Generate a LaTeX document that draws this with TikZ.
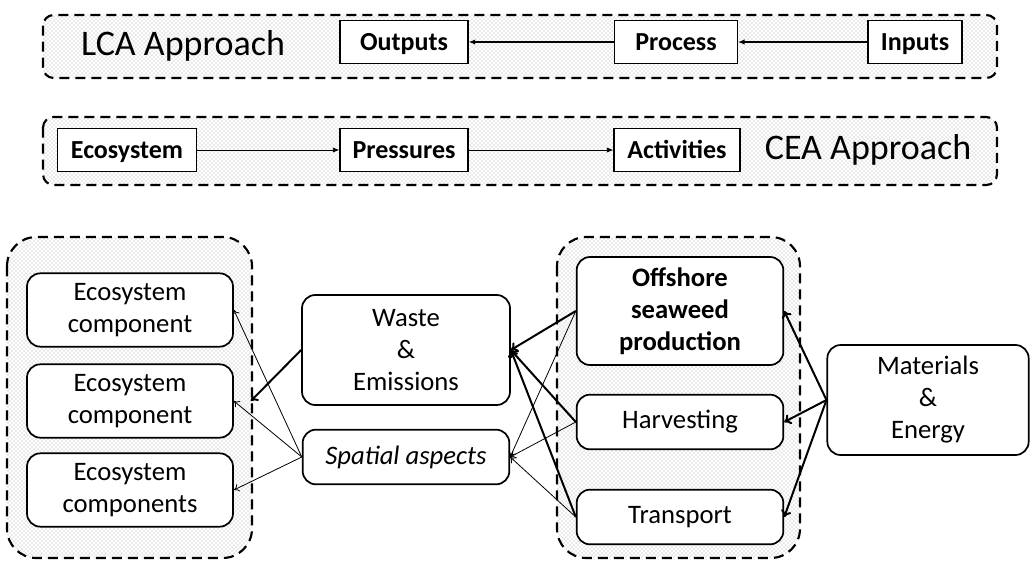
\documentclass[tikz,border=0pt]{standalone}
\usepackage{fontspec}
\setmainfont{Carlito}
\usetikzlibrary{arrows.meta, patterns}

\begin{document}
\begin{tikzpicture}[x=0.75pt, y=-0.75pt,
  zone/.style={draw, line width=1.6pt, dash pattern=on 7.5pt off 4.5pt, pattern=crosshatch dots, pattern color=black!35},
  sbox/.style={draw, line width=0.8pt, fill=white, text height=13pt, text depth=0pt, inner ysep=9.5pt, inner xsep=0pt, font=\fontsize{19.5}{23}\selectfont\bfseries},
  rbox/.style={draw, line width=1.3pt, fill=white, rounded corners=10pt, align=center, inner sep=0pt, font=\fontsize{20}{24}\selectfont},
  approach/.style={font=\fontsize{27}{31}\selectfont},
  larrow/.style={line width=1.1pt, -{Latex[length=5pt, width=4pt]}},
  carrow/.style={line width=0.7pt, -{Latex[length=5pt, width=4pt]}},
  fat/.style={line width=1.5pt, -{To[length=5pt, width=8pt]}},
  slim/.style={line width=0.6pt, -{To[length=4pt, width=6pt]}}
]
  \useasboundingbox (0,0) rectangle (1030,563);

  % LCA row
  \draw[zone, rounded corners=8pt] (43,15) rectangle (997,78);
  \node[approach] (lca) at (183,46) {LCA Approach};
  \node[sbox, minimum width=96pt] (outputs) at (404,42) {Outputs};
  \node[sbox, minimum width=92pt] (process) at (676,42) {Process};
  \node[sbox, minimum width=70.5pt] (inputs) at (915,42) {Inputs};
  \draw[larrow] (inputs) -- (process);
  \draw[larrow] (process) -- (outputs);

  % CEA row
  \draw[zone, rounded corners=8pt] (43,117) rectangle (997,185);
  \node[sbox, minimum width=104pt] (eco) at (127,150) {Ecosystem};
  \node[sbox, minimum width=96pt] (press) at (404,150) {Pressures};
  \node[sbox, minimum width=94.5pt] (act) at (677,150) {Activities};
  \node[approach] (cea) at (868,150) {CEA Approach};
  \draw[carrow] (eco) -- (press);
  \draw[carrow] (press) -- (act);

  % lower part
  \draw[zone, rounded corners=22pt] (7,237) rectangle (252,558);
  \draw[zone, rounded corners=22pt] (557,237) rectangle (800,558);

  \node[rbox, minimum width=154.5pt, minimum height=55pt] (ec1) at (130,310) {Ecosystem\\component};
  \node[rbox, minimum width=154.5pt, minimum height=55pt] (ec2) at (130,401) {Ecosystem\\component};
  \node[rbox, minimum width=154.5pt, minimum height=55pt] (ec3) at (130,490) {Ecosystem\\components};

  \node[rbox, minimum width=156pt, minimum height=82.5pt] (waste) at (406,350) {Waste\\\&\\Emissions};
  \node[rbox, minimum width=155pt, minimum height=41pt] (spat) at (406,457) {\textit{Spatial aspects}};

  \node[rbox, minimum width=155pt, minimum height=81pt, font=\fontsize{20}{24}\selectfont\bfseries] (off) at (680,311) {Offshore\\seaweed\\production};
  \node[rbox, minimum width=155pt, minimum height=41pt] (harv) at (680,422) {Harvesting};
  \node[rbox, minimum width=155pt, minimum height=41pt] (trans) at (680,517) {Transport};

  \node[rbox, minimum width=151pt, minimum height=82.5pt] (mat) at (928,400) {Materials\\\&\\Energy};

  \draw[fat] (mat.west) -- (off.east);
  \draw[fat] (mat.west) -- (harv.east);
  \draw[fat] (mat.west) -- (trans.east);

  \draw[fat] (off.west) -- (waste.east);
  \draw[fat] (harv.west) -- (waste.east);
  \draw[fat] (trans.west) -- (waste.east);
  \draw[slim] (off.west) -- (spat.east);
  \draw[slim] (harv.west) -- (spat.east);
  \draw[slim] (trans.west) -- (spat.east);

  \draw[fat] (waste.west) -- ([xshift=12.75pt]ec2.east);
  \draw[slim] (spat.west) -- (ec1.east);
  \draw[slim] (spat.west) -- (ec2.east);
  \draw[slim] (spat.west) -- (ec3.east);
\end{tikzpicture}
\end{document}
